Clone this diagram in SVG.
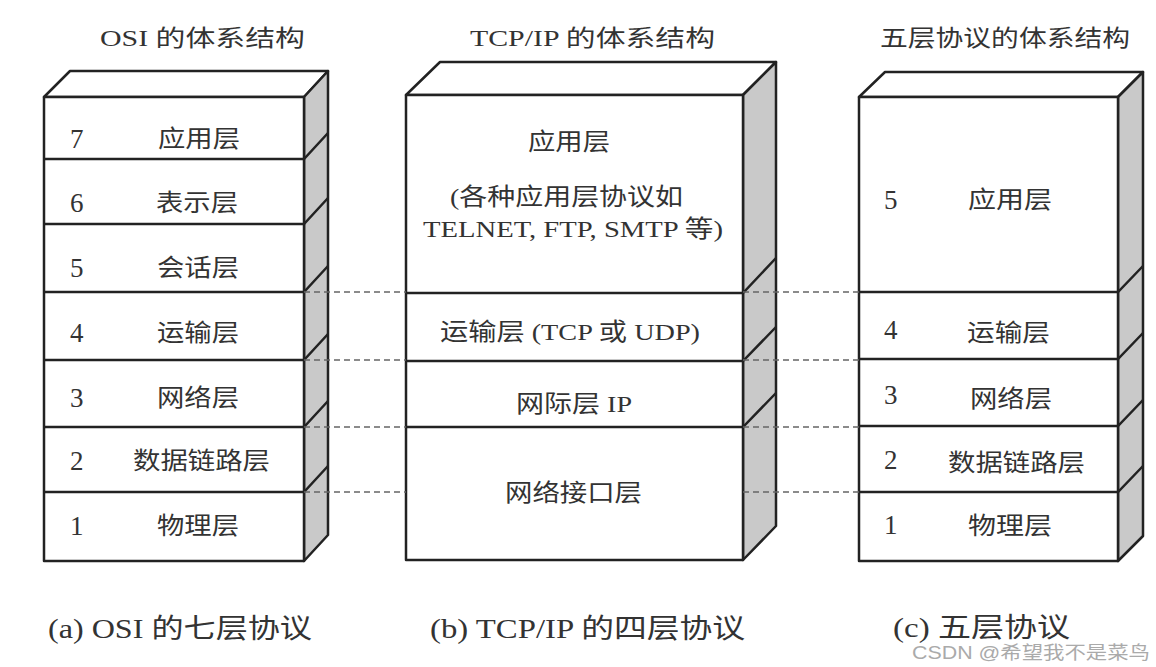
<svg xmlns="http://www.w3.org/2000/svg" width="1156" height="667" viewBox="0 0 1156 667">
<style>
.f{fill:#fff;stroke:#222;stroke-width:2.5;stroke-linejoin:round}
.s{fill:#c9c9c9;stroke:#222;stroke-width:2.5;stroke-linejoin:round}
.l{stroke:#222;stroke-width:2.5;fill:none}
.d{stroke:#666;stroke-width:1.5;stroke-dasharray:6 4;fill:none}
text{font-family:"Liberation Serif","Noto Sans CJK SC",serif;fill:#333;font-size:24px}
.n{font-size:27px}
.t{font-size:23px}
.cap{font-size:27px}
.wm{font-family:"Liberation Sans","Noto Sans CJK SC",sans-serif;font-size:18px;fill:#aaa}
</style>
<rect width="1156" height="667" fill="#fff"/>
<text x="100" y="46" class="t" textLength="205" lengthAdjust="spacingAndGlyphs">OSI 的体系结构</text>
<text x="470" y="46" class="t" textLength="245" lengthAdjust="spacingAndGlyphs">TCP/IP 的体系结构</text>
<text x="880" y="46" class="t" textLength="250" lengthAdjust="spacingAndGlyphs">五层协议的体系结构</text>

<g id="osi">
<polygon class="f" points="44,97 70,71 328,71 304,97"/>
<polygon class="s" points="304,97 328,71 328,535 304,561"/>
<rect class="f" x="44" y="97" width="260" height="464"/>
<path class="l" d="M44,159H304l24,-26M44,224H304l24,-26M44,292H304l24,-26M44,360H304l24,-26M44,427H304l24,-26M44,492H304l24,-26"/>
<g id="osi7"><text class="n" x="70" y="148">7</text><text x="158" y="147" textLength="82" lengthAdjust="spacingAndGlyphs">应用层</text></g>
<g id="osi6"><text class="n" x="70" y="212">6</text><text x="156" y="211" textLength="82" lengthAdjust="spacingAndGlyphs">表示层</text></g>
<g id="osi5"><text class="n" x="70" y="277">5</text><text x="157" y="276" textLength="82" lengthAdjust="spacingAndGlyphs">会话层</text></g>
<g id="osi4"><text class="n" x="70" y="342">4</text><text x="157" y="341" textLength="82" lengthAdjust="spacingAndGlyphs">运输层</text></g>
<g id="osi3"><text class="n" x="70" y="407">3</text><text x="157" y="406" textLength="82" lengthAdjust="spacingAndGlyphs">网络层</text></g>
<g id="osi2"><text class="n" x="70" y="470">2</text><text x="133" y="469" textLength="137" lengthAdjust="spacingAndGlyphs">数据链路层</text></g>
<g id="osi1"><text class="n" x="70" y="535">1</text><text x="157" y="534" textLength="82" lengthAdjust="spacingAndGlyphs">物理层</text></g>
</g>

<g id="tcpip">
<polygon class="f" points="406,95 440,62 776,62 743,95"/>
<polygon class="s" points="743,95 776,62 776,526 743,560"/>
<rect class="f" x="406" y="95" width="337" height="465"/>
<path class="l" d="M406,293H743l33,-35M406,361H743l33,-34M406,427H743l33,-34"/>
<g id="tcp-app">
<text x="528" y="150" textLength="82" lengthAdjust="spacingAndGlyphs">应用层</text>
<text x="450" y="205" textLength="233" lengthAdjust="spacingAndGlyphs">(各种应用层协议如</text>
<text x="423" y="237" textLength="300" lengthAdjust="spacingAndGlyphs">TELNET, FTP, SMTP 等)</text>
</g>
<g id="tcp-transport"><text x="440" y="340" textLength="260" lengthAdjust="spacingAndGlyphs">运输层 (TCP 或 UDP)</text></g>
<g id="tcp-internet"><text x="516" y="412" textLength="116" lengthAdjust="spacingAndGlyphs">网际层 IP</text></g>
<g id="tcp-link"><text x="505" y="501" textLength="137" lengthAdjust="spacingAndGlyphs">网络接口层</text></g>
</g>

<g id="five">
<polygon class="f" points="859,97 885,72 1143,72 1118,97"/>
<polygon class="s" points="1118,97 1143,72 1143,536 1118,561"/>
<rect class="f" x="859" y="97" width="259" height="464"/>
<path class="l" d="M859,292H1118l25,-26M859,359H1118l25,-26M859,426H1118l25,-26M859,492H1118l25,-26"/>
<g id="five5"><text class="n" x="884" y="209">5</text><text x="968" y="208" textLength="84" lengthAdjust="spacingAndGlyphs">应用层</text></g>
<g id="five4"><text class="n" x="884" y="339">4</text><text x="967" y="341" textLength="83" lengthAdjust="spacingAndGlyphs">运输层</text></g>
<g id="five3"><text class="n" x="884" y="404">3</text><text x="970" y="407" textLength="82" lengthAdjust="spacingAndGlyphs">网络层</text></g>
<g id="five2"><text class="n" x="884" y="469">2</text><text x="948" y="471" textLength="137" lengthAdjust="spacingAndGlyphs">数据链路层</text></g>
<g id="five1"><text class="n" x="884" y="534">1</text><text x="968" y="534" textLength="84" lengthAdjust="spacingAndGlyphs">物理层</text></g>
</g>

<g id="connectors">
<path class="d" d="M304,292H406M743,292H859M304,360H406M743,360H859M304,427H406M743,427H859M304,492H406M743,492H859"/>
</g>

<text x="48" y="638" class="cap" textLength="264" lengthAdjust="spacingAndGlyphs">(a) OSI 的七层协议</text>
<text x="430" y="638" class="cap" textLength="315" lengthAdjust="spacingAndGlyphs">(b) TCP/IP 的四层协议</text>
<text x="893" y="637" class="cap" textLength="177" lengthAdjust="spacingAndGlyphs">(c)  五层协议</text>
<text x="912" y="659" class="wm" textLength="238" lengthAdjust="spacingAndGlyphs">CSDN @希望我不是菜鸟</text>
</svg>
